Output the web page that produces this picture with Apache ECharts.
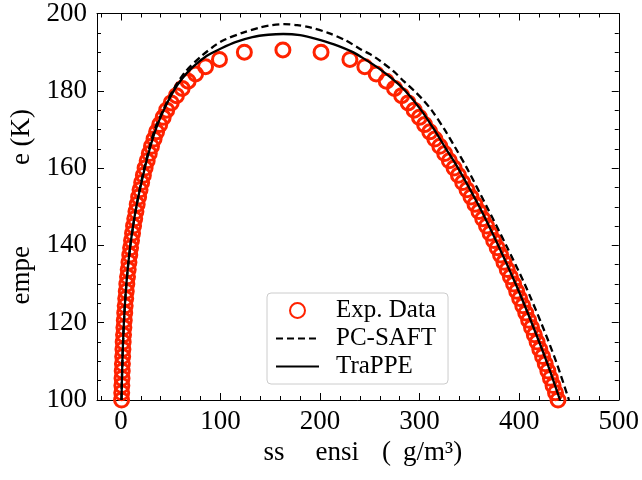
<!DOCTYPE html>
<html><head><meta charset="utf-8">
<script src="https://cdn.jsdelivr.net/npm/echarts@6/dist/echarts.min.js"></script>
<style>html,body{margin:0;padding:0;background:#fff}#c{width:642px;height:480px}</style>
</head><body><div id="c"></div>
<script>
// ---- data ----
const expT = [100, 101.875, 103.75, 105.625, 107.5, 109.375, 111.25, 113.125, 115, 116.875, 118.75, 120.625, 122.5, 124.375, 126.25, 128.125, 130, 131.875, 133.75, 135.625, 137.5, 139.375, 141.25, 143.125, 145, 146.875, 148.75, 150.625, 152.5, 154.375, 156.25, 158.125, 160, 161.875, 163.75, 165.625, 167.5, 169.375, 171.25, 173.125, 175, 176.875, 178.75, 180.625, 182.5, 184.375, 186.25, 188.125, 190];
const expRhoVap = [0.68, 0.83, 0.97, 1.14, 1.34, 1.53, 1.78, 2.04, 2.3, 2.66, 3.01, 3.40, 3.85, 4.30, 4.83, 5.39, 5.95, 6.64, 7.34, 8.08, 8.9, 9.73, 10.68, 11.69, 12.7, 13.9, 15.1, 16.38, 17.8, 19.23, 20.85, 22.58, 24.3, 26.4, 28.5, 30.75, 33.3, 35.85, 39.0, 42.5, 46, 50.5, 55.75, 61.5, 67.5, 75, 85, 99, 124];
const expRhoLiq = [439.0, 436.5, 434.0, 431.4, 428.8, 426.2, 423.5, 420.7, 418.0, 415.2, 412.4, 409.5, 406.6, 403.6, 400.5, 397.5, 394.4, 391.2, 388.0, 384.7, 381.3, 377.9, 374.4, 370.8, 367.2, 363.4, 359.6, 355.6, 351.6, 347.6, 343.3, 339.0, 334.6, 329.9, 325.2, 320.3, 315.3, 310.2, 305.0, 299.8, 294.5, 288.5, 282.0, 274.8, 266.5, 256.4, 245, 230, 201];
const expCritRho = 162.7;
const expCritT = 190.56;

const trappeRho = [0.6, 1.5, 3, 5.5, 9.5, 15.5, 24, 29, 35, 43, 53, 61, 71.5, 86, 101, 115, 132, 148, 163, 180, 195, 214, 233, 246, 258, 273, 285.5, 301.5, 314.5, 326.5, 338.6, 360, 379, 396.5, 412.5, 427.5, 441];
const trappeT   = [100, 110, 120, 130, 140, 150, 160, 165, 170, 175, 180, 183, 186, 189, 191, 192.6, 193.9, 194.5, 194.7, 194.4, 193.5, 192, 190, 188, 186, 183, 180, 175, 170, 165, 160, 150, 140, 130, 120, 110, 100];

const pcsaftRho = [0.6, 1.5, 3, 5.5, 9.5, 15.5, 23.5, 34, 42.5, 52, 65, 81, 96, 104, 122, 140, 152, 164, 177, 190, 208, 226, 241, 250, 259, 274, 284, 294.5, 304, 312, 325, 336.5, 347.5, 367.5, 387, 405.5, 422, 437, 450];
const pcsaftT   = [100, 110, 120, 130, 140, 150, 160, 170, 175, 180, 185, 189, 192, 193.2, 195, 196.4, 197, 197.25, 197, 196.4, 195, 193, 190.7, 189.5, 188, 185, 182.5, 180, 177.5, 175, 170, 165, 160, 150, 140, 130, 120, 110, 100];

const xMin = -24, xMax = 500;
const yMin = 100, yMax = 200, yStep = 20;
const xMajorTicks = [0, 100, 200, 300, 400, 500];
const xMinorTicks = [-20, 20, 40, 60, 80, 120, 140, 160, 180, 220, 240, 260, 280, 320, 340, 360, 380, 420, 440, 460, 480];

const seriesNames = ['Exp. Data', 'PC-SAFT', 'TraPPE'];
const xNameParts = ['ss', 'ensi', '(', 'g/m³)'];
const yName = 'empe            e (K)';

// ---- build ----
const expData = [];
expT.forEach((t, i) => expData.push([expRhoVap[i], t]));
expData.push([expCritRho, expCritT]);
expT.forEach((t, i) => expData.push([expRhoLiq[i], t]));
const trappeData = trappeRho.map((r, i) => [r, trappeT[i]]);
const pcsaftData = pcsaftRho.map((r, i) => [r, pcsaftT[i]]);

const FONT = 'Liberation Serif';
const black = '#000';
const TICK_FS = 27;

const xNameRich = '{g0| }{t|' + xNameParts[0] + '}{g1| }{t|' + xNameParts[1] + '}{g2| }{t|' + xNameParts[2] + '}{g3| }{t|' + xNameParts[3] + '}';

function xAx(pos, major, showLine, label) {
  const ticks = major ? xMajorTicks : xMinorTicks;
  const ax = {
    type: 'value', min: xMin, max: xMax, position: pos,
    axisLine: { show: showLine, onZero: false, lineStyle: { color: black, width: 1 } },
    axisTick: { show: true, inside: true, length: major ? 7 : 4, customValues: ticks, lineStyle: { color: black, width: 1 } },
    axisLabel: { show: !!label, customValues: xMajorTicks, fontFamily: FONT, fontSize: TICK_FS, color: black, margin: 8 },
    splitLine: { show: false }
  };
  if (label) {
    ax.name = xNameRich; ax.nameLocation = 'middle'; ax.nameGap = 38;
    ax.nameTextStyle = {
      fontFamily: FONT, fontSize: 27, color: black,
      rich: {
        t: { fontFamily: FONT, fontSize: 27, color: black },
        g0: { width: 10, fontSize: 27 },
        g1: { width: 31, fontSize: 27 },
        g2: { width: 23, fontSize: 27 },
        g3: { width: 12, fontSize: 27 }
      }
    };
  }
  return ax;
}
function yAx(pos, label) {
  const ax = {
    type: 'value', min: yMin, max: yMax, interval: yStep, position: pos,
    axisLine: { show: true, onZero: false, lineStyle: { color: black, width: 1 } },
    axisTick: { show: true, inside: true, length: 7, lineStyle: { color: black, width: 1 } },
    minorTick: { show: true, splitNumber: 4, length: 4, lineStyle: { color: black, width: 1 } },
    axisLabel: { show: label, fontFamily: FONT, fontSize: TICK_FS, color: black, margin: 10 },
    splitLine: { show: false }, minorSplitLine: { show: false }
  };
  if (label) {
    ax.name = yName; ax.nameLocation = 'middle'; ax.nameGap = 62;
    ax.nameTextStyle = { fontFamily: FONT, fontSize: 27, color: black };
  }
  return ax;
}

const chart = echarts.init(document.getElementById('c'), null, { renderer: 'canvas' });
chart.setOption({
  animation: false,
  backgroundColor: '#fff',
  grid: { left: 95, right: 22, top: 9, bottom: 80, containLabel: false },
  xAxis: [xAx('bottom', true, true, true), xAx('bottom', false, false, false), xAx('top', true, true, false), xAx('top', false, false, false)],
  yAxis: [yAx('left', true), yAx('right', false)],
  legend: {
    data: [
      { name: seriesNames[0], icon: 'circle' },
      { name: seriesNames[1], itemStyle: { opacity: 0 } },
      { name: seriesNames[2], itemStyle: { opacity: 0 } }
    ],
    orient: 'vertical', left: 267, top: 293,
    itemWidth: 43, itemHeight: 15, itemGap: 3,
    padding: [5, 12, 5, 8],
    textStyle: { fontFamily: FONT, fontSize: 25, color: black, padding: [0, 0, 0, 12] },
    backgroundColor: 'rgba(255,255,255,0.8)', borderColor: '#cccccc', borderWidth: 1, borderRadius: 4
  },
  series: [
    { name: seriesNames[0], type: 'scatter', xAxisIndex: 0, yAxisIndex: 0, data: expData,
      symbol: 'circle', symbolSize: 14, z: 2,
      itemStyle: { color: 'rgba(0,0,0,0)', borderColor: '#ff2200', borderWidth: 3, opacity: 1 } },
    { name: seriesNames[1], type: 'line', xAxisIndex: 0, yAxisIndex: 0, data: pcsaftData,
      symbol: 'none', showSymbol: false, smooth: 0.3, z: 3,
      lineStyle: { color: black, width: 2.3, type: [7, 4] }, itemStyle: { color: black } },
    { name: seriesNames[2], type: 'line', xAxisIndex: 0, yAxisIndex: 0, data: trappeData,
      symbol: 'none', showSymbol: false, smooth: 0.3, z: 3,
      lineStyle: { color: black, width: 2.3 }, itemStyle: { color: black } }
  ]
});
</script></body></html>
